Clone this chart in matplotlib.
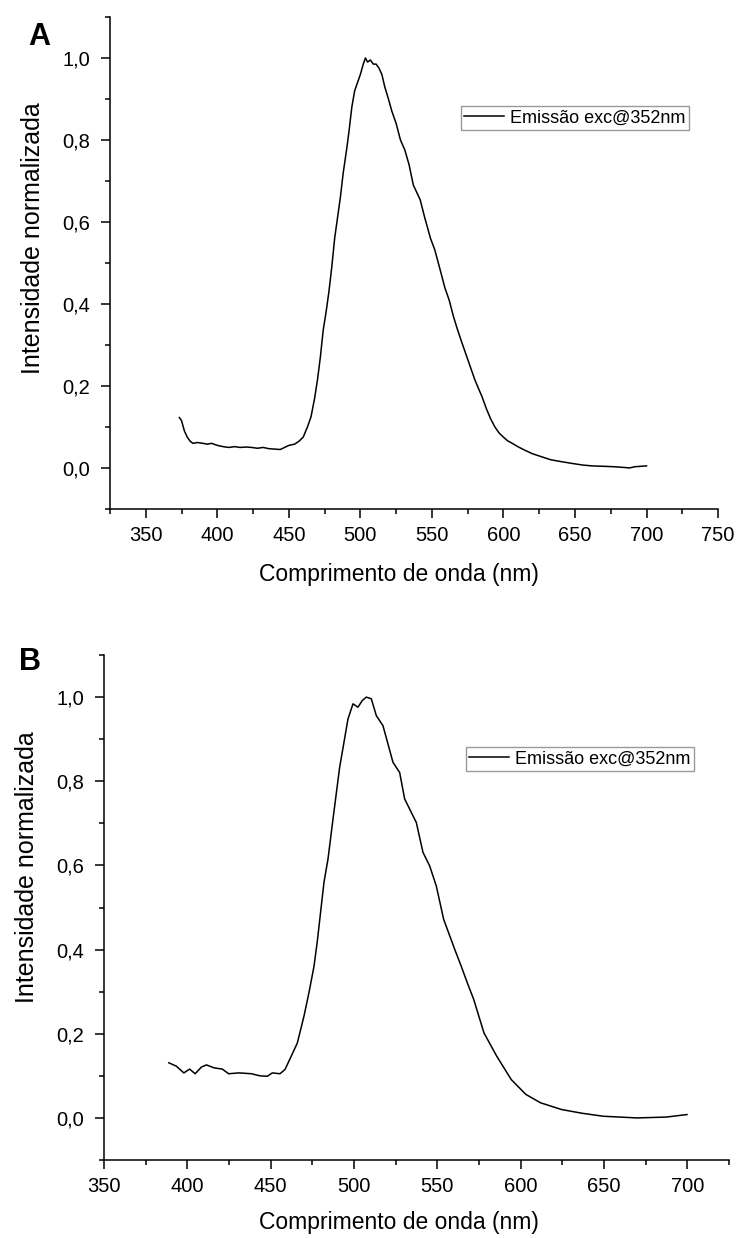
import matplotlib
matplotlib.use("Agg")
import matplotlib.pyplot as plt
from matplotlib.ticker import MultipleLocator, FuncFormatter

plt.rcParams['font.family'] = ['Liberation Sans', 'DejaVu Sans']

# panel A: emission spectrum
wl_a = [373.5, 375, 377, 379, 381, 383, 386, 390, 393, 396, 400, 404, 408, 412,
        416, 420, 424, 428, 432, 436, 440, 444, 447, 450, 454, 457, 460, 463,
        465.5, 468, 470, 472, 474, 476, 478, 480, 482, 484, 486, 488, 490.5, 492,
        494, 496, 498, 500, 502, 503.5, 505, 507, 509, 511, 513, 515, 517, 519.6,
        522, 525, 528, 531, 534, 537, 541.8, 545, 549, 552, 556, 559, 562, 565,
        568, 571, 574, 577, 580, 583, 585, 588, 591, 594, 597, 600, 603, 605.7,
        610, 614.5, 620, 626, 633, 641, 648, 655.5, 662, 670, 677, 685, 688, 692,
        696, 700]
int_a = [0.123, 0.115, 0.090, 0.075, 0.065, 0.060, 0.062, 0.060, 0.058, 0.060,
         0.055, 0.052, 0.050, 0.052, 0.050, 0.051, 0.050, 0.048, 0.050, 0.047,
         0.046, 0.045, 0.050, 0.055, 0.058, 0.065, 0.075, 0.100, 0.125, 0.170,
         0.215, 0.270, 0.336, 0.380, 0.430, 0.490, 0.560, 0.610, 0.660, 0.720,
         0.780, 0.820, 0.880, 0.920, 0.940, 0.960, 0.985, 1.000, 0.990, 0.995,
         0.985, 0.985, 0.975, 0.960, 0.930, 0.900, 0.870, 0.840, 0.800, 0.776,
         0.740, 0.690, 0.654, 0.610, 0.560, 0.532, 0.480, 0.440, 0.410, 0.370,
         0.336, 0.305, 0.275, 0.245, 0.215, 0.190, 0.174, 0.145, 0.120, 0.100,
         0.085, 0.075, 0.066, 0.061, 0.052, 0.044, 0.035, 0.028, 0.020, 0.015,
         0.011, 0.007, 0.005, 0.004, 0.003, 0.001, 0.000, 0.003, 0.004, 0.005]

# panel B
wl_b = [388.9, 393.4, 397.9, 401.4, 404.7, 408.5, 411.5, 416, 421, 424.8, 431,
        438.5, 443.6, 448, 451, 455.6, 458.6, 462.4, 466, 470, 473, 476, 478,
        480, 482, 484.4, 487.4, 491.4, 496.4, 499.4, 502.4, 505, 507.4, 510.4,
        513.4, 517.4, 523.4, 527.4, 530.4, 537.4, 541.4, 545.4, 549.4, 553.8,
        560.5, 564.3, 568, 571.8, 578, 585.6, 594.4, 603.1, 611.9, 624.5, 637,
        649.6, 669.7, 687.3, 699.8]
int_b = [0.131, 0.123, 0.107, 0.116, 0.105, 0.121, 0.126, 0.119, 0.116, 0.105,
         0.107, 0.105, 0.100, 0.099, 0.107, 0.105, 0.115, 0.147, 0.178, 0.242,
         0.298, 0.360, 0.420, 0.490, 0.560, 0.615, 0.710, 0.833, 0.948, 0.984,
         0.976, 0.992, 1.000, 0.996, 0.956, 0.932, 0.845, 0.821, 0.758, 0.702,
         0.631, 0.599, 0.551, 0.472, 0.400, 0.361, 0.321, 0.282, 0.202, 0.147,
         0.091, 0.056, 0.036, 0.020, 0.011, 0.004, 0.000, 0.002, 0.008]

legend_label = "Emissão exc@352nm"
x_label = "Comprimento de onda (nm)"
y_label = "Intensidade normalizada"

fig = plt.figure(figsize=(7.37, 12.38), dpi=100)
ax_a = fig.add_axes([0.1493, 0.5889, 0.8250, 0.3974])
ax_b = fig.add_axes([0.1411, 0.0630, 0.8480, 0.4079])

comma = FuncFormatter(lambda v, p: ("%.1f" % v).replace(".", ","))


def style(ax, xlim, lab_xy, ylab_xy, leg_xy):
    ax.set_xlim(*xlim)
    ax.set_ylim(-0.1, 1.1)
    for s in ["top", "right"]:
        ax.spines[s].set_visible(False)
    for s in ["left", "bottom"]:
        ax.spines[s].set_linewidth(1.1)
    ax.xaxis.set_major_locator(MultipleLocator(50))
    ax.xaxis.set_minor_locator(MultipleLocator(25))
    ax.yaxis.set_major_locator(MultipleLocator(0.2))
    ax.yaxis.set_minor_locator(MultipleLocator(0.1))
    ax.yaxis.set_major_formatter(comma)
    ax.tick_params(which="major", direction="out", length=6.5, width=1.1,
                   labelsize=14.5)
    ax.tick_params(which="minor", direction="out", length=3.3, width=1.1)
    ax.tick_params(axis="y", pad=8)
    ax.tick_params(axis="x", pad=6)
    ax.set_xlabel(x_label, fontsize=16.5)
    ax.set_ylabel(y_label, fontsize=18)
    ax.xaxis.set_label_coords(*lab_xy)
    ax.xaxis.label.set_va("center")
    ax.yaxis.set_label_coords(*ylab_xy)
    ax.yaxis.label.set_va("center")
    leg = ax.legend(loc="upper left", bbox_to_anchor=leg_xy, borderaxespad=0,
                    fontsize=13, frameon=True, fancybox=False, shadow=False,
                    borderpad=0.2, handlelength=2.2, handletextpad=0.3)
    leg.get_frame().set_edgecolor("#808080")
    leg.get_frame().set_linewidth(1.0)


ax_a.plot(wl_a, int_a, color="black", lw=1.1, label=legend_label)
style(ax_a, (325, 750), (0.475, -0.134), (-0.127, 0.55), (0.577, 0.819))

ax_b.plot(wl_b, int_b, color="black", lw=1.1, label=legend_label)
style(ax_b, (350, 725), (0.472, -0.123), (-0.123, 0.58), (0.579, 0.818))

fig.text(0.0529, 0.970, "A", fontsize=22, fontweight="bold",
         ha="center", va="center")
fig.text(0.0407, 0.4653, "B", fontsize=22, fontweight="bold",
         ha="center", va="center")

fig.savefig("out.png", dpi=100)
